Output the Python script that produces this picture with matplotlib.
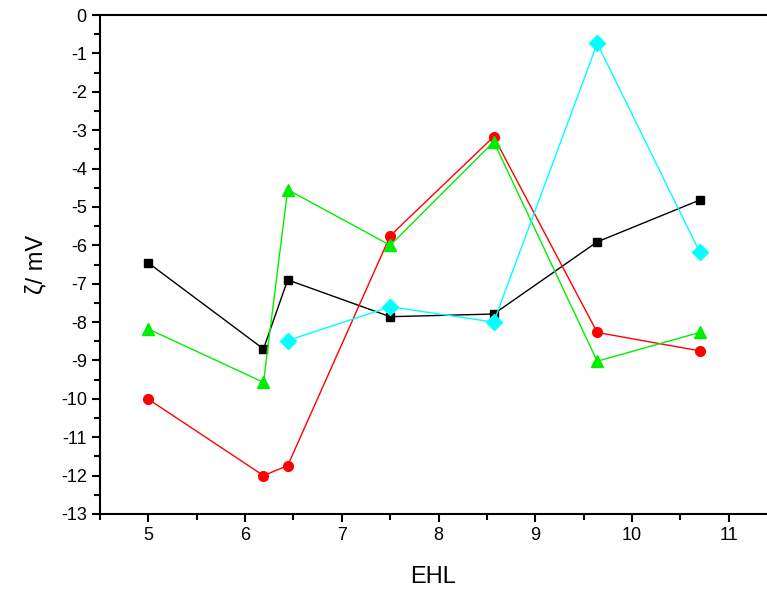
import matplotlib
matplotlib.use("Agg")
import matplotlib.pyplot as plt
from matplotlib.ticker import MultipleLocator

plt.rcParams['font.family'] = ['Liberation Sans', 'DejaVu Sans']
plt.rcParams['axes.unicode_minus'] = False

# EHL values and zeta potentials of the four series
ehl = [5.0, 6.19, 6.44, 7.5, 8.57, 9.64, 10.7]
ehl_d = [6.44, 7.5, 8.57, 9.64, 10.7]
zeta_sq = [-6.46, -8.70, -6.90, -7.86, -7.79, -5.91, -4.82]
zeta_ci = [-10.01, -12.0, -11.74, -5.75, -3.17, -8.27, -8.75]
zeta_tr = [-8.18, -9.57, -4.55, -6.0, -3.3, -9.02, -8.27]
zeta_di = [-8.48, -7.6, -8.0, -0.74, -6.18]

fig = plt.figure(figsize=(7.67, 5.94), dpi=100)
ax = fig.add_axes([0.1304, 0.1347, 0.8696, 0.84])

ax.plot(ehl, zeta_sq, color='black', lw=1, marker='s', ms=6)
ax.plot(ehl, zeta_ci, color='red', lw=1, marker='o', ms=7)
ax.plot(ehl, zeta_tr, color='#00ee00', lw=1, marker='^', ms=9)
ax.plot(ehl_d, zeta_di, color='cyan', lw=1, marker='D', ms=8)

ax.set_xlim(4.5, 11.395)
ax.set_ylim(-13, 0)
ax.xaxis.set_major_locator(MultipleLocator(1))
ax.xaxis.set_minor_locator(MultipleLocator(0.5))
ax.yaxis.set_major_locator(MultipleLocator(1))
ax.yaxis.set_minor_locator(MultipleLocator(0.5))
ax.tick_params(which='major', direction='out', length=6, width=1.5, labelsize=13)
ax.tick_params(which='minor', direction='out', length=4, width=1.5)
ax.tick_params(top=False, right=False)
for s in ['left', 'bottom', 'top']:
    ax.spines[s].set_linewidth(1.5)
ax.spines['right'].set_visible(False)

ax.set_xlabel('EHL', fontsize=17, labelpad=16)
ax.set_ylabel('ζ/ mV', fontsize=17, labelpad=10)

fig.savefig('out.png', dpi=100)
